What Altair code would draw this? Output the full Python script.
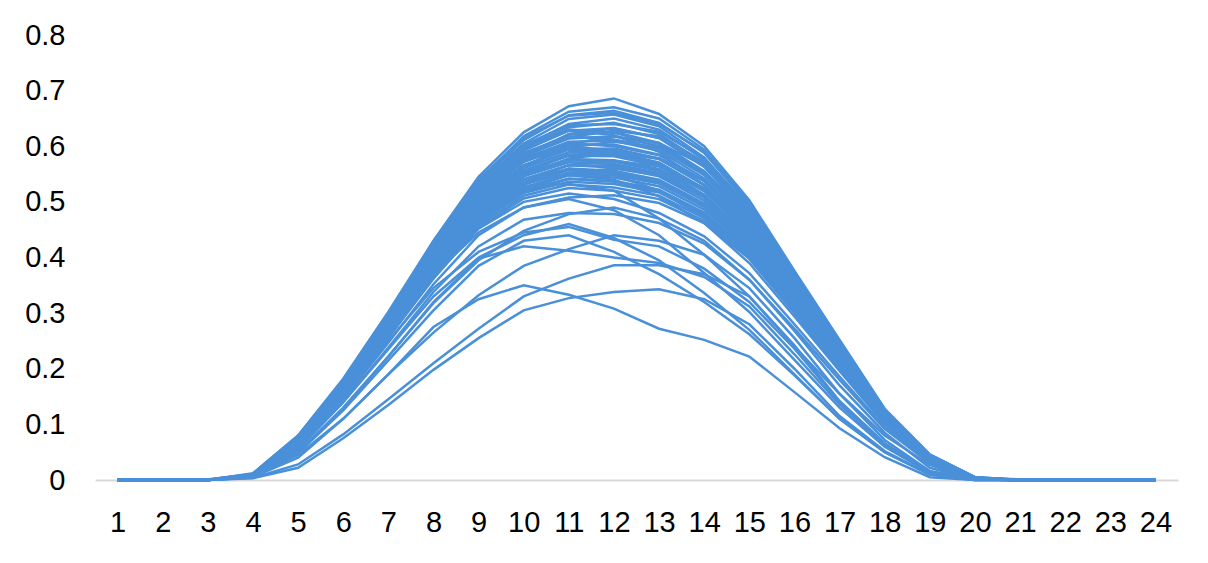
import altair as alt
import pandas as pd

hours = [1, 2, 3, 4, 5, 6, 7, 8, 9, 10, 11, 12, 13, 14, 15, 16, 17, 18, 19, 20, 21, 22, 23, 24]
y_ticks = [0, 0.1, 0.2, 0.3, 0.4, 0.5, 0.6, 0.7, 0.8]

# main bundle (hours 1..24)
b01 = [0, 0, 0, .012, .080, .182, .302, .430, .545, .625, .672, .686, .658, .600, .503, .376, .252, .128, .046, .005, 0, 0, 0, 0]
b02 = [0, 0, 0, .011, .078, .178, .298, .426, .538, .618, .662, .670, .650, .594, .497, .371, .247, .126, .045, .005, 0, 0, 0, 0]
b03 = [0, 0, .001, .011, .079, .179, .297, .422, .534, .611, .656, .664, .642, .588, .494, .368, .244, .125, .044, .004, 0, 0, 0, 0]
b04 = [0, 0, 0, .010, .077, .176, .294, .419, .530, .605, .649, .657, .636, .580, .488, .364, .242, .123, .043, .004, .001, 0, 0, 0]
b05 = [0, 0, 0, .010, .078, .177, .295, .420, .528, .600, .640, .650, .630, .576, .485, .362, .240, .122, .043, .004, 0, 0, 0, 0]
b06 = [0, 0, 0, .010, .076, .175, .292, .416, .526, .598, .634, .642, .622, .569, .480, .358, .238, .121, .042, .004, 0, 0, 0, 0]
b07 = [0, 0, .001, .010, .075, .173, .290, .413, .522, .592, .628, .633, .615, .563, .476, .355, .236, .120, .042, .003, 0, 0, 0, 0]
b08 = [0, 0, 0, .009, .076, .174, .291, .412, .518, .586, .621, .626, .606, .555, .470, .352, .234, .119, .041, .003, 0, 0, 0, 0]
b09 = [0, 0, 0, .009, .074, .171, .287, .408, .514, .582, .614, .618, .600, .550, .466, .349, .232, .118, .041, .003, 0, 0, 0, 0]
b10 = [0, 0, 0, .009, .073, .170, .285, .405, .510, .578, .608, .610, .592, .542, .460, .346, .230, .117, .040, .003, 0, 0, 0, 0]
b11 = [0, 0, 0, .009, .074, .170, .284, .402, .505, .572, .602, .603, .585, .537, .455, .342, .228, .116, .040, .003, 0, 0, 0, 0]
b12 = [0, 0, 0, .009, .072, .168, .282, .400, .502, .566, .595, .596, .578, .530, .450, .339, .226, .115, .039, .003, 0, 0, 0, 0]
b13 = [0, 0, 0, .008, .071, .166, .279, .396, .498, .561, .589, .589, .571, .524, .446, .336, .224, .114, .039, .003, 0, 0, 0, 0]
b14 = [0, 0, 0, .008, .072, .167, .279, .394, .492, .556, .583, .582, .565, .519, .441, .333, .222, .113, .038, .003, 0, 0, 0, 0]
b15 = [0, 0, 0, .008, .070, .164, .276, .391, .489, .551, .577, .575, .559, .513, .437, .330, .220, .112, .038, .002, 0, 0, 0, 0]
b16 = [0, 0, 0, .008, .069, .162, .273, .388, .486, .546, .571, .568, .552, .508, .432, .327, .218, .111, .037, .002, 0, 0, 0, 0]
b17 = [0, 0, 0, .008, .070, .163, .272, .385, .481, .541, .566, .562, .546, .502, .428, .324, .216, .110, .037, .002, 0, 0, 0, 0]
b18 = [0, 0, 0, .007, .068, .160, .270, .382, .478, .536, .560, .556, .540, .497, .424, .321, .214, .109, .036, .002, 0, 0, 0, 0]
b19 = [0, 0, 0, .007, .067, .158, .267, .378, .474, .531, .553, .550, .534, .491, .419, .318, .212, .108, .036, .002, 0, 0, 0, 0]
b20 = [0, 0, 0, .007, .068, .159, .266, .376, .470, .526, .548, .544, .528, .486, .415, .315, .210, .107, .035, .002, 0, 0, 0, 0]
b21 = [0, 0, 0, .007, .066, .156, .263, .372, .466, .521, .542, .538, .522, .481, .411, .312, .208, .106, .035, .002, 0, 0, 0, 0]
b22 = [0, 0, 0, .007, .065, .154, .260, .369, .462, .516, .536, .532, .517, .476, .407, .309, .206, .105, .034, .002, 0, 0, 0, 0]
b23 = [0, 0, 0, .006, .066, .155, .259, .366, .458, .511, .531, .526, .511, .471, .403, .306, .204, .104, .034, .002, 0, 0, 0, 0]
b24 = [0, 0, 0, .006, .064, .152, .256, .362, .454, .506, .525, .520, .505, .466, .399, .303, .202, .103, .033, .002, 0, 0, 0, 0]

# more bundle days
w01 = [0, 0, 0, .011, .079, .180, .300, .428, .540, .615, .655, .660, .640, .590, .500, .374, .250, .127, .045, .005, 0, 0, 0, 0]
w02 = [0, 0, 0, .010, .077, .177, .296, .421, .532, .602, .638, .640, .626, .578, .490, .366, .244, .124, .044, .004, 0, 0, 0, 0]
w03 = [0, 0, 0, .010, .076, .175, .293, .417, .527, .596, .630, .624, .604, .552, .466, .348, .232, .118, .041, .003, 0, 0, 0, 0]
w04 = [0, 0, 0, .009, .075, .172, .289, .411, .519, .588, .618, .612, .596, .548, .464, .348, .233, .119, .041, .003, 0, 0, 0, 0]
w05 = [0, 0, 0, .009, .073, .169, .284, .404, .510, .575, .606, .600, .584, .538, .456, .342, .229, .117, .040, .003, 0, 0, 0, 0]
w06 = [0, 0, 0, .009, .072, .167, .280, .398, .502, .565, .594, .592, .577, .531, .451, .340, .227, .116, .040, .003, 0, 0, 0, 0]
w07 = [0, 0, 0, .008, .071, .165, .277, .393, .494, .556, .585, .585, .568, .522, .442, .333, .223, .113, .039, .003, 0, 0, 0, 0]
w08 = [0, 0, 0, .008, .070, .163, .274, .389, .488, .549, .575, .572, .556, .512, .434, .327, .219, .111, .038, .002, 0, 0, 0, 0]
w09 = [0, 0, 0, .008, .069, .161, .271, .384, .482, .540, .566, .565, .550, .507, .431, .325, .217, .110, .037, .002, 0, 0, 0, 0]
w10 = [0, 0, 0, .007, .068, .159, .268, .380, .476, .533, .557, .553, .537, .494, .420, .317, .211, .107, .036, .002, 0, 0, 0, 0]
w11 = [0, 0, 0, .007, .067, .157, .265, .375, .470, .526, .550, .548, .533, .492, .418, .316, .211, .107, .036, .002, 0, 0, 0, 0]
w12 = [0, 0, 0, .007, .066, .155, .262, .371, .464, .518, .541, .536, .520, .479, .408, .309, .206, .105, .035, .002, 0, 0, 0, 0]
w13 = [0, 0, 0, .009, .074, .171, .288, .410, .516, .583, .616, .628, .618, .572, .488, .366, .245, .125, .044, .004, 0, 0, 0, 0]
w14 = [0, 0, 0, .008, .072, .167, .281, .399, .500, .565, .598, .608, .598, .555, .474, .357, .238, .122, .043, .004, 0, 0, 0, 0]
w15 = [0, 0, 0, .007, .068, .160, .270, .384, .484, .546, .578, .588, .578, .538, .460, .347, .232, .119, .042, .003, 0, 0, 0, 0]
w16 = [0, 0, 0, .007, .066, .156, .264, .376, .474, .535, .566, .574, .564, .525, .450, .340, .228, .117, .041, .003, 0, 0, 0, 0]

# varied days
v01 = [0, 0, 0, .008, .066, .158, .270, .392, .500, .578, .622, .632, .615, .566, .480, .360, .240, .122, .043, .004, 0, 0, 0, 0]
v02 = [0, 0, 0, .010, .077, .176, .294, .418, .525, .594, .628, .620, .590, .530, .440, .325, .212, .106, .036, .002, 0, 0, 0, 0]
v03 = [0, 0, 0, .007, .066, .158, .268, .385, .490, .562, .604, .618, .606, .565, .488, .368, .246, .126, .044, .004, 0, 0, 0, 0]
v04 = [0, 0, 0, .009, .074, .170, .286, .405, .508, .572, .600, .592, .565, .512, .430, .320, .210, .105, .035, .002, 0, 0, 0, 0]
v05 = [0, 0, 0, .008, .070, .163, .275, .390, .490, .552, .584, .590, .578, .538, .462, .350, .234, .120, .042, .003, 0, 0, 0, 0]
v06 = [0, 0, 0, .006, .062, .150, .255, .365, .462, .522, .552, .560, .548, .508, .436, .330, .220, .113, .039, .003, 0, 0, 0, 0]
v07 = [0, 0, 0, .007, .065, .152, .258, .368, .462, .522, .548, .540, .510, .462, .390, .294, .196, .100, .033, .002, 0, 0, 0, 0]
v08 = [0, 0, 0, .008, .069, .160, .268, .380, .475, .534, .560, .548, .520, .472, .398, .300, .200, .102, .034, .002, 0, 0, 0, 0]
v09 = [0, 0, 0, .008, .068, .160, .270, .382, .478, .528, .532, .520, .470, .405, .330, .240, .155, .080, .027, .001, 0, 0, 0, 0]
v10 = [0, 0, 0, .006, .058, .140, .238, .338, .420, .468, .480, .478, .462, .425, .360, .272, .180, .092, .030, .002, 0, 0, 0, 0]
v11 = [0, 0, 0, .007, .064, .152, .258, .364, .452, .500, .515, .505, .480, .438, .372, .280, .186, .095, .031, .002, 0, 0, 0, 0]
v12 = [0, 0, 0, .006, .060, .145, .247, .352, .440, .490, .508, .512, .498, .462, .398, .302, .200, .103, .034, .002, 0, 0, 0, 0]

# cloudy / unusual days
o01 = [0, 0, 0, .006, .045, .110, .190, .275, .325, .350, .333, .308, .272, .252, .222, .158, .093, .041, .005, 0, 0, 0, 0, 0]
o02 = [0, 0, 0, .003, .022, .075, .135, .198, .255, .305, .327, .338, .343, .325, .280, .200, .115, .052, .010, 0, 0, 0, 0, 0]
o03 = [0, 0, 0, .004, .028, .082, .145, .210, .272, .330, .362, .386, .386, .370, .330, .242, .142, .066, .015, .001, 0, 0, 0, 0]
o04 = [0, 0, 0, .006, .050, .130, .222, .320, .398, .420, .412, .400, .390, .365, .312, .226, .136, .062, .014, .001, 0, 0, 0, 0]
o05 = [0, 0, 0, .007, .055, .140, .235, .330, .400, .440, .460, .435, .395, .336, .270, .190, .110, .050, .010, 0, 0, 0, 0, 0]
o06 = [0, 0, 0, .005, .040, .110, .190, .265, .332, .385, .415, .440, .430, .405, .345, .255, .155, .072, .016, .001, 0, 0, 0, 0]
o07 = [0, 0, 0, .007, .060, .150, .250, .345, .410, .445, .455, .432, .420, .380, .320, .236, .140, .065, .015, .001, 0, 0, 0, 0]
o08 = [0, 0, 0, .008, .065, .160, .265, .370, .445, .490, .505, .485, .440, .372, .302, .216, .130, .060, .013, .001, 0, 0, 0, 0]
o09 = [0, 0, 0, .006, .050, .128, .222, .318, .395, .448, .478, .490, .470, .430, .360, .268, .170, .085, .022, .001, 0, 0, 0, 0]
o10 = [0, 0, 0, .006, .048, .125, .215, .305, .385, .430, .440, .410, .370, .320, .262, .188, .110, .050, .010, 0, 0, 0, 0, 0]

series = {
    "b01": b01, "b02": b02, "b03": b03, "b04": b04, "b05": b05, "b06": b06,
    "b07": b07, "b08": b08, "b09": b09, "b10": b10, "b11": b11, "b12": b12,
    "b13": b13, "b14": b14, "b15": b15, "b16": b16, "b17": b17, "b18": b18,
    "b19": b19, "b20": b20, "b21": b21, "b22": b22, "b23": b23, "b24": b24,
    "w01": w01, "w02": w02, "w03": w03, "w04": w04, "w05": w05, "w06": w06,
    "w07": w07, "w08": w08, "w09": w09, "w10": w10, "w11": w11, "w12": w12,
    "w13": w13, "w14": w14, "w15": w15, "w16": w16,
    "v01": v01, "v02": v02, "v03": v03, "v04": v04, "v05": v05, "v06": v06,
    "v07": v07, "v08": v08, "v09": v09, "v10": v10, "v11": v11, "v12": v12,
    "o01": o01, "o02": o02, "o03": o03, "o04": o04, "o05": o05, "o06": o06,
    "o07": o07, "o08": o08, "o09": o09, "o10": o10,
}

rows = []
for name, vals in series.items():
    for h, v in zip(hours, vals):
        rows.append({"series": name, "hour": h, "value": v})
df = pd.DataFrame(rows)

FONT = "Liberation Sans"

chart = (
    alt.Chart(df)
    .mark_line(color="#4a90d9", strokeWidth=2.5)
    .encode(
        x=alt.X(
            "hour:O",
            sort=hours,
            scale=alt.Scale(type="point", padding=0.5),
            axis=alt.Axis(
                title=None,
                labelAngle=0,
                ticks=False,
                grid=False,
                domainColor="#d9d9d9",
                domainWidth=2,
                labelFontSize=29,
                labelFont=FONT,
                labelColor="#000000",
                labelPadding=28,
            ),
        ),
        y=alt.Y(
            "value:Q",
            scale=alt.Scale(domain=[0, 0.8], nice=False, zero=True),
            axis=alt.Axis(
                title=None,
                values=y_ticks,
                format=".1~f",
                domain=False,
                ticks=False,
                grid=False,
                labelFontSize=29,
                labelFont=FONT,
                labelColor="#000000",
                labelPadding=30,
            ),
        ),
        detail="series:N",
    )
    .properties(
        width=1083,
        height=445,
        autosize=alt.AutoSizeParams(type="none"),
        padding={"left": 87, "top": 27, "right": 10, "bottom": 70},
    )
    .configure(background="#ffffff")
    .configure_view(stroke="transparent", strokeWidth=0)
)

chart.save("out.html", embed_options={"renderer": "svg", "actions": False})
